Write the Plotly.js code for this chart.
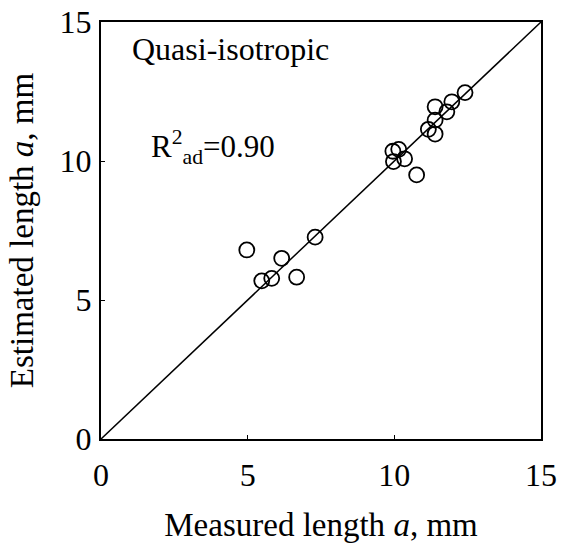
<!DOCTYPE html>
<html><head><meta charset="utf-8">
<script src="https://cdn.plot.ly/plotly-3.0.1.min.js"></script>
<style>html,body{margin:0;padding:0;background:#fff}</style>
</head><body>
<div id="chart" style="width:572px;height:546px"></div>
<script>
var measured = [4.97, 5.48, 5.82, 6.16, 6.67, 7.30, 9.95, 9.97, 10.15, 10.35, 10.76, 11.16, 11.39, 11.39, 11.39, 11.79, 11.96, 12.41];
var estimated = [6.80, 5.69, 5.78, 6.50, 5.82, 7.26, 10.35, 9.98, 10.42, 10.08, 9.50, 11.14, 11.95, 11.47, 10.97, 11.77, 12.13, 12.46];
var lineX = [0, 15];
var lineY = [0, 15];
var tickVals = [0, 5, 10, 15];
var tickText = ['0', '5', '10', '15'];

var font = 'Liberation Serif, Times New Roman, serif';
var traces = [
  {x: lineX, y: lineY, mode: 'lines', line: {color: '#000', width: 1.5}, hoverinfo: 'skip'},
  {x: measured, y: estimated, mode: 'markers',
   marker: {symbol: 'circle-open', size: 15, color: '#000', line: {width: 1.8, color: '#000'}}}
];
var axisCommon = {
  range: [0, 15], tickvals: tickVals, ticktext: tickText,
  showgrid: false, zeroline: false, showline: true, mirror: true,
  linecolor: '#000', linewidth: 2, ticks: 'inside', ticklen: 4, tickcolor: '#000', tickwidth: 1,
  tickfont: {family: font, size: 32, color: '#000'}
};
var layout = {
  width: 572, height: 546,
  margin: {l: 101, r: 31, t: 22, b: 107},
  paper_bgcolor: '#fff', plot_bgcolor: '#fff',
  showlegend: false,
  xaxis: Object.assign({}, axisCommon, {
    ticklabelstandoff: 7,
    title: {text: 'Measured length <i>a</i>, mm', font: {family: font, size: 33, color: '#000'}, standoff: 20}
  }),
  yaxis: Object.assign({}, axisCommon, {
    ticklabelstandoff: 1,
    title: {text: 'Estimated length <i>a</i>, mm', font: {family: font, size: 33, color: '#000'}, standoff: 16}
  }),
  annotations: [
    {xref: 'paper', yref: 'paper', x: 0.065, y: 0.935, xanchor: 'left', yanchor: 'middle', showarrow: false,
     text: 'Quasi-isotropic', font: {family: font, size: 32, color: '#000'}},
    {xref: 'paper', yref: 'paper', x: 0.11, y: 0.70, xanchor: 'left', yanchor: 'middle', showarrow: false,
     text: 'R<sup>2</sup><sub>ad</sub>=0.90', font: {family: font, size: 31, color: '#000'}}
  ]
};
Plotly.newPlot('chart', traces, layout, {displayModeBar: false, staticPlot: true});
</script>
</body></html>
